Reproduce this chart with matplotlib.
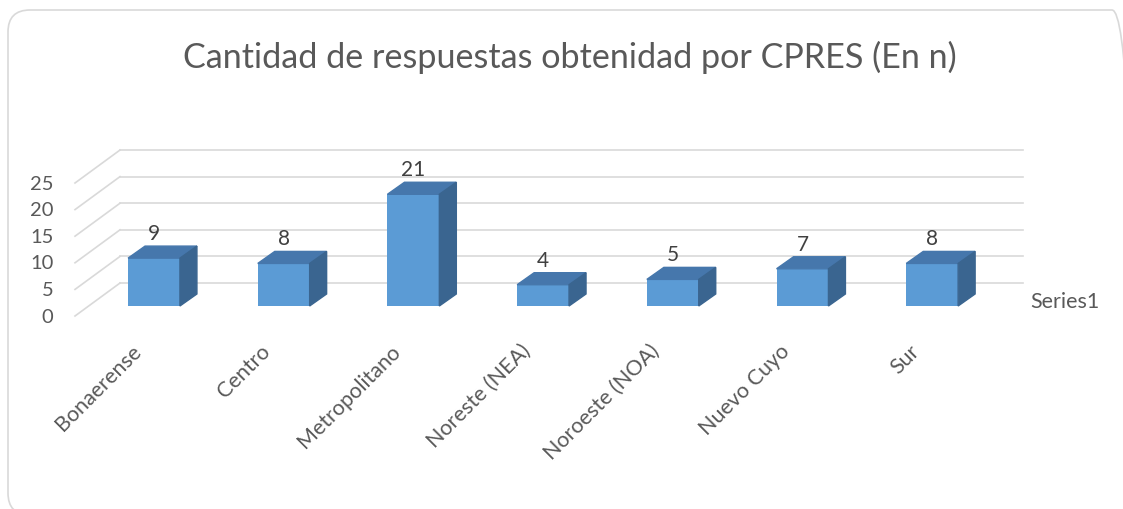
import matplotlib
matplotlib.use("Agg")
import matplotlib.pyplot as plt
from matplotlib.patches import FancyBboxPatch
from matplotlib.transforms import IdentityTransform
import numpy as np

categories = ["Bonaerense", "Centro", "Metropolitano", "Noreste (NEA)",
              "Noroeste (NOA)", "Nuevo Cuyo", "Sur"]
values = [9, 8, 21, 4, 5, 7, 8]
yticks = [0, 5, 10, 15, 20, 25]
series_name = "Series1"
title = "Cantidad de respuestas obtenidad por CPRES (En n)"

plt.rcParams['font.family'] = ['Lato', 'DejaVu Sans']
grey = "#595959"
front_c = "#5b9bd5"
top_c = "#4677ac"
side_c = "#3a6590"
grid_c = "#d9d9d9"

fig = plt.figure(figsize=(11.23, 5.10), dpi=100)
ax = fig.add_axes([0, 0, 1, 1])
# 1 category = 129.7 px, 1 value unit = 5.32 px
ax.set_xlim(-154 / 129.7, (1123 - 154) / 129.7)
ax.set_ylim(-(510 - 307) / 5.32, 307 / 5.32)
ax.axis("off")

# depth offsets (data units)
fdx, fdy = -0.105, -1.88   # front floor edge relative to bar fronts
bdx, bdy = 0.242, 4.32     # back wall relative to bar fronts
wx0 = -0.609 + (bdx - fdx)  # back wall left
wx1 = 6.70
bar_w = 0.40
dx, dy = 0.131, 2.26       # bar depth

for v in yticks:
    ax.plot([wx0 - (bdx - fdx), wx0], [v + fdy, v + bdy], color=grid_c, lw=1.2, zorder=1)
    ax.plot([wx0, wx1], [v + bdy, v + bdy], color=grid_c, lw=1.2, zorder=1)
    ax.text(wx0 - (bdx - fdx) - 0.165, v + fdy, str(v), ha="right", va="center",
            fontsize=14.5, color=grey)

x = np.arange(len(categories))
ax.bar(x, values, width=bar_w, color=front_c, zorder=3)
for i, v in zip(x, values):
    l, r = i - bar_w / 2, i + bar_w / 2
    ax.fill([l, r, r + dx, l + dx], [v, v, v + dy, v + dy], color=top_c, zorder=3)
    ax.fill([r, r + dx, r + dx, r], [0, dy, v + dy, v], color=side_c, zorder=3)
    ax.annotate(str(v), (i, v + dy), xytext=(0, 9.5), textcoords="offset points",
                ha="center", va="center", fontsize=15, color="#404040")
    ax.text(i - 0.07, -6.4, categories[i], rotation=45, ha="right", va="top",
            fontsize=15.5, color=grey)

ax.text(6.754, 0.9, series_name, ha="left", va="center", fontsize=15.5, color=grey)

fig.text(0.507, 0.888, title, ha="center", va="center", fontsize=24.6, color=grey)

# chart border in pixels (right and bottom edges run off the canvas)
border = FancyBboxPatch((8, -6), 1126, 505,
                        boxstyle="round,pad=0,rounding_size=22",
                        transform=IdentityTransform(), fill=False,
                        edgecolor="#d9d9d9", lw=1.2)
fig.patches.append(border)

fig.savefig("out.png", dpi=100)
